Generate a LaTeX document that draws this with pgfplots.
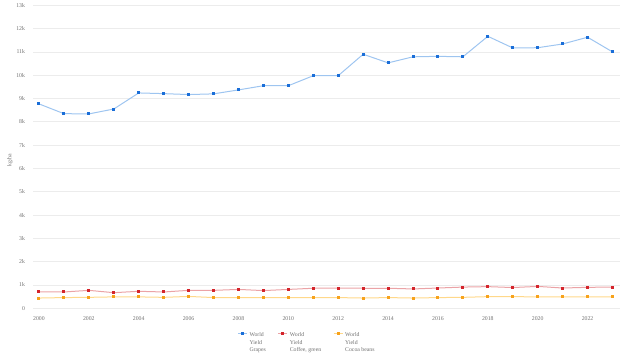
\documentclass[border=0pt]{standalone}
\usepackage{pgfplots}
\pgfplotsset{compat=1.18}
\usepackage{fontspec}
\setmainfont{Liberation Serif}
\definecolor{txt}{HTML}{707070}
\definecolor{gridc}{HTML}{ECECEC}
\definecolor{gline}{HTML}{9EC5F0}
\definecolor{gmark}{HTML}{1A6ED8}
\definecolor{cline}{HTML}{EBA3A6}
\definecolor{cmark}{HTML}{D4242B}
\definecolor{oline}{HTML}{FFD88A}
\definecolor{omark}{HTML}{F7A21B}
\begin{document}
\begin{tikzpicture}
\begin{axis}[
  at={(33bp,55.7bp)}, anchor=south west,
  scale only axis, width=587bp, height=303bp,
  xmin=1999.76, xmax=2023.3, ymin=0, ymax=13000,
  axis line style={draw=none},
  major tick length=0pt,
  xtick={2000,2002,...,2022},
  ytick={0,1000,...,13000},
  yticklabels={0,1k,2k,3k,4k,5k,6k,7k,8k,9k,10k,11k,12k,13k},
  xticklabel style={/pgf/number format/1000 sep=, yshift=-4.5bp},
  yticklabel style={xshift=-4.5bp},
  /pgf/number format/assume math mode=true,
  tick label style={font=\fontsize{5.8}{7}\selectfont, text=txt},
  ymajorgrids, grid style={gridc, line width=0.8bp},
  ylabel={kg/ha}, ylabel style={at={(axis description cs:-0.039,0.489)}, anchor=center, font=\fontsize{5.8}{7}\selectfont, text=txt},
  legend columns=3,
  legend style={at={(axis description cs:0.343,-0.062)}, anchor=north west, draw=none, fill=none,
    font=\fontsize{5.8}{7.6}\selectfont, text=txt, /tikz/every even column/.append style={column sep=10bp},
    cells={anchor=north west}},
  legend image code/.code={\draw[#1] (0bp,-4.2bp) -- (9bp,-4.2bp); \draw[#1, only marks] plot coordinates {(4.5bp,-4.2bp)};},
]
\addplot[gline, line width=1bp, mark=square*, mark size=1bp, mark options={gmark, fill=gmark, draw=gmark}] coordinates {
(2000,8770) (2001,8350) (2002,8340) (2003,8550) (2004,9240) (2005,9210) (2006,9170) (2007,9200)
(2008,9370) (2009,9550) (2010,9550) (2011,9980) (2012,9980) (2013,10900) (2014,10530) (2015,10790)
(2016,10810) (2017,10790) (2018,11670) (2019,11170) (2020,11180) (2021,11340) (2022,11630) (2023,11000)};
\addlegendentry{\begin{tabular}[t]{@{}l@{}}World\\Yield\\Grapes\end{tabular}}
\addplot[cline, line width=1bp, mark=square*, mark size=1bp, mark options={cmark, fill=cmark, draw=cmark}] coordinates {
(2000,700) (2001,700) (2002,770) (2003,670) (2004,730) (2005,700) (2006,770) (2007,770)
(2008,810) (2009,760) (2010,810) (2011,860) (2012,870) (2013,860) (2014,860) (2015,830)
(2016,870) (2017,910) (2018,930) (2019,890) (2020,940) (2021,870) (2022,900) (2023,910)};
\addlegendentry{\begin{tabular}[t]{@{}l@{}}World\\Yield\\Coffee, green\end{tabular}}
\addplot[oline, line width=1bp, mark=square*, mark size=1bp, mark options={omark, fill=omark, draw=omark}] coordinates {
(2000,440) (2001,460) (2002,470) (2003,490) (2004,490) (2005,470) (2006,510) (2007,460)
(2008,460) (2009,460) (2010,460) (2011,460) (2012,460) (2013,440) (2014,460) (2015,440)
(2016,460) (2017,470) (2018,500) (2019,500) (2020,490) (2021,490) (2022,490) (2023,490)};
\addlegendentry{\begin{tabular}[t]{@{}l@{}}World\\Yield\\Cocoa beans\end{tabular}}
\node[anchor=east, font=\fontsize{5.3}{6}\selectfont, text=txt!70] at (axis description cs:1.0,-0.164) {Source: FAOSTAT (November 5, 2025)};
\end{axis}
\pgfresetboundingbox
\path[use as bounding box] (0,0) rectangle (624bp,364bp);
\end{tikzpicture}
\end{document}
